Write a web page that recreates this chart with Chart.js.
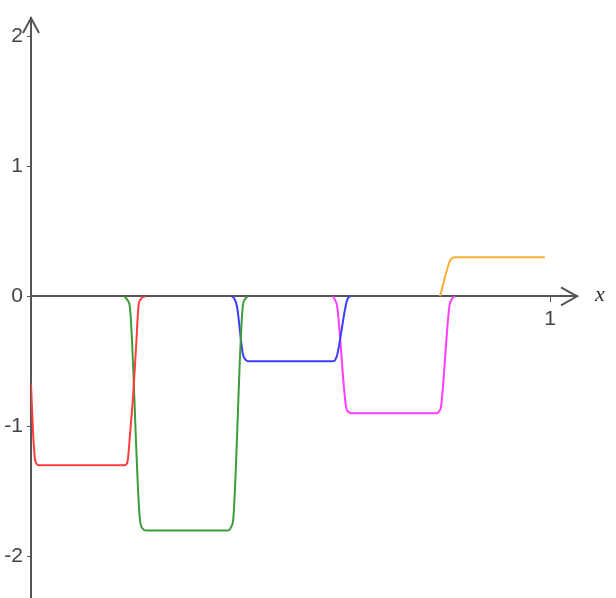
<!DOCTYPE html>
<html>
<head>
<meta charset="utf-8">
<script src="https://cdn.jsdelivr.net/npm/chart.js@4.4.1/dist/chart.umd.min.js"></script>
<style>
  body { margin: 0; background: #fff; }
  #wrap { width: 616px; height: 598px; position: relative; }
</style>
</head>
<body>
<div id="wrap"><canvas id="plot"></canvas></div>
<script>
// curves, [x, y]
const red = [[0, -0.67], [0.004, -1.05], [0.008, -1.26], [0.016, -1.3], [0.18, -1.3], [0.186, -1.27],
  [0.191, -1.05], [0.197, -0.75], [0.203, -0.35], [0.207, -0.08], [0.212, -0.02], [0.22, 0]];
const green = [[0.18, 0], [0.186, -0.03], [0.191, -0.1], [0.21, -1.72], [0.216, -1.79], [0.222, -1.8],
  [0.38, -1.8], [0.386, -1.77], [0.39, -1.7], [0.408, -0.08], [0.413, -0.02], [0.418, 0]];
const blue = [[0.387, 0], [0.392, -0.02], [0.397, -0.08], [0.408, -0.44], [0.414, -0.49], [0.42, -0.5],
  [0.58, -0.5], [0.586, -0.49], [0.59, -0.45], [0.606, -0.08], [0.61, -0.02], [0.615, 0]];
const magenta = [[0.582, 0], [0.586, -0.03], [0.59, -0.08], [0.607, -0.85], [0.612, -0.89], [0.618, -0.9],
  [0.782, -0.9], [0.787, -0.88], [0.79, -0.85], [0.806, -0.08], [0.811, -0.02], [0.817, 0]];
const orange = [[0.788, 0], [0.807, 0.27], [0.812, 0.295], [0.818, 0.3], [0.99, 0.3]];

const xTicks = [1];
const yTicks = [-2, -1, 0, 1, 2];

const series = [
  { pts: red, color: '#ff3d3d' },
  { pts: green, color: '#3c9c3c' },
  { pts: blue, color: '#3d3dff' },
  { pts: magenta, color: '#ff3dff' },
  { pts: orange, color: '#ffb030' },
];

const axisColor = '#555';

// arrow heads and the x label
const arrows = {
  id: 'arrows',
  afterDraw(chart) {
    const ctx = chart.ctx;
    const area = chart.chartArea;
    const y0 = chart.scales.y.getPixelForValue(0);
    const x0 = chart.scales.x.getPixelForValue(0);
    ctx.save();
    ctx.strokeStyle = axisColor;
    ctx.lineWidth = 2;
    ctx.beginPath();
    ctx.moveTo(area.right - 16, y0 - 9);
    ctx.lineTo(area.right, y0);
    ctx.lineTo(area.right - 16, y0 + 9);
    ctx.moveTo(x0 - 8, area.top + 15);
    ctx.lineTo(x0, area.top);
    ctx.lineTo(x0 + 8, area.top + 15);
    ctx.stroke();
    ctx.fillStyle = '#333';
    ctx.font = 'italic 22px "Liberation Serif", "DejaVu Serif", serif';
    ctx.textAlign = 'center';
    ctx.textBaseline = 'middle';
    ctx.fillText('x', area.right + 23, y0 - 1);
    ctx.restore();
  }
};

new Chart(document.getElementById('plot'), {
  type: 'line',
  data: {
    datasets: series.map(s => ({
      data: s.pts.map(p => ({ x: p[0], y: p[1] })),
      borderColor: s.color,
      borderWidth: 2,
      pointRadius: 0,
      fill: false,
      cubicInterpolationMode: 'monotone',
    })),
  },
  options: {
    responsive: true,
    maintainAspectRatio: false,
    animation: false,
    layout: { padding: { top: 18, right: 39, bottom: 0, left: 0 } },
    plugins: { legend: { display: false }, tooltip: { enabled: false } },
    scales: {
      x: {
        type: 'linear',
        min: 0,
        max: 1.052,
        position: { y: 0 },
        afterBuildTicks: scale => { scale.ticks = xTicks.map(v => ({ value: v })); },
        afterFit: scale => { scale.paddingLeft = 0; scale.paddingRight = 0; },
        grid: { drawOnChartArea: false, tickLength: 5, color: axisColor },
        border: { color: axisColor, width: 2 },
        ticks: {
          color: '#444',
          padding: 5,
          maxRotation: 0,
          font: { family: '"Liberation Sans", Arial, sans-serif', size: 21 },
        },
      },
      y: {
        type: 'linear',
        min: -2.32,
        max: 2.14,
        position: 'left',
        afterBuildTicks: scale => { scale.ticks = yTicks.map(v => ({ value: v })); },
        afterFit: scale => { scale.width = 31; scale.paddingTop = 0; scale.paddingBottom = 0; },
        grid: { drawOnChartArea: false, tickLength: 4, color: axisColor },
        border: { color: axisColor, width: 2 },
        ticks: {
          color: '#444',
          padding: 4,
          font: { family: '"Liberation Sans", Arial, sans-serif', size: 21 },
        },
      },
    },
  },
  plugins: [arrows],
});
</script>
</body>
</html>
